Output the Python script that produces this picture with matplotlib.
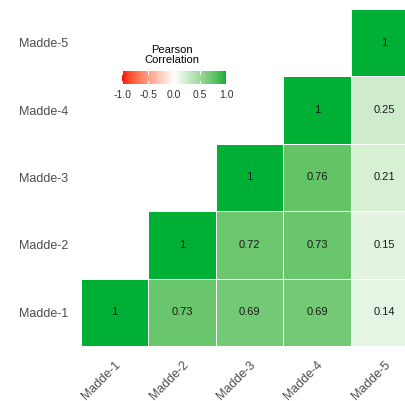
import numpy as np
import matplotlib
matplotlib.use('Agg')
import matplotlib.pyplot as plt
from matplotlib.colors import ListedColormap

plt.rcParams['font.family'] = ['Liberation Sans', 'DejaVu Sans']

labels = ['Madde-1', 'Madde-2', 'Madde-3', 'Madde-4', 'Madde-5']
# correlations, row i / column j, only j >= i is shown
corr = np.array([
    [1.00, 0.73, 0.69, 0.69, 0.14],
    [0.73, 1.00, 0.72, 0.73, 0.15],
    [0.69, 0.72, 1.00, 0.76, 0.21],
    [0.69, 0.73, 0.76, 1.00, 0.25],
    [0.14, 0.15, 0.21, 0.25, 1.00],
])
cbar_ticks = [-1.0, -0.5, 0.0, 0.5, 1.0]


def srgb_to_lab(c):
    c = np.asarray(c, float)
    lin = np.where(c <= 0.04045, c / 12.92, ((c + 0.055) / 1.055) ** 2.4)
    m = np.array([[0.4124, 0.3576, 0.1805],
                  [0.2126, 0.7152, 0.0722],
                  [0.0193, 0.1192, 0.9505]])
    xyz = m @ lin / np.array([0.95047, 1.0, 1.08883])
    f = np.where(xyz > 0.008856, np.cbrt(xyz), 7.787 * xyz + 16 / 116)
    return np.array([116 * f[1] - 16, 500 * (f[0] - f[1]), 200 * (f[1] - f[2])])


def lab_to_srgb(lab):
    L, a, b = lab
    fy = (L + 16) / 116
    fx = fy + a / 500
    fz = fy - b / 200
    f = np.array([fx, fy, fz])
    xyz = np.where(f ** 3 > 0.008856, f ** 3, (f - 16 / 116) / 7.787)
    xyz = xyz * np.array([0.95047, 1.0, 1.08883])
    m = np.array([[3.2406, -1.5372, -0.4986],
                  [-0.9689, 1.8758, 0.0415],
                  [0.0557, -0.2040, 1.0570]])
    lin = m @ xyz
    c = np.where(lin <= 0.0031308, 12.92 * lin, 1.055 * np.clip(lin, 0, None) ** (1 / 2.4) - 0.055)
    return np.clip(c, 0, 1)


def lab_cmap(low, mid, high, n=256):
    lo, mi, hi = [srgb_to_lab(matplotlib.colors.to_rgb(c)) for c in (low, mid, high)]
    cols = []
    for t in np.linspace(-1, 1, n):
        if t < 0:
            lab = mi + (lo - mi) * (-t)
        else:
            lab = mi + (hi - mi) * t
        cols.append(lab_to_srgb(lab))
    return ListedColormap(cols)


cmap = lab_cmap('#FF0000', '#FFFFFF', '#00B035')

fig = plt.figure(figsize=(4.06, 4.01), dpi=100)
ax = fig.add_axes([81 / 406, 55 / 401, 337 / 406, 337 / 401])

n = len(labels)
mask = np.tril(np.ones((n, n), bool), -1)
data = np.ma.masked_where(mask, corr)
ax.pcolormesh(np.arange(n + 1), np.arange(n + 1), data, cmap=cmap, vmin=-1, vmax=1,
              edgecolors='white', linewidth=0.6)

for i in range(n):
    for j in range(n):
        if j >= i:
            v = corr[i, j]
            txt = '1' if v == 1 else ('%.2f' % v).rstrip('0')
            ax.text(j + 0.5, i + 0.5, txt, ha='center', va='center', fontsize=8, color='#1a1a1a')

ax.set_xlim(0, n)
ax.set_ylim(0, n)
ax.set_xticks(np.arange(n) + 0.5)
ax.set_yticks(np.arange(n) + 0.5)
ax.set_xticklabels(labels, rotation=45, ha='right', va='top', rotation_mode='anchor')
ax.set_yticklabels(labels)
ax.tick_params(length=0, labelsize=9, labelcolor='#4D4D4D', pad=9.5)
ax.tick_params(axis='x', pad=9)
for s in ax.spines.values():
    s.set_visible(False)

# colour bar legend
cax = fig.add_axes([121 / 406, 1 - 84 / 401, 106 / 406, 13 / 401])
grad = np.linspace(-1, 1, 256).reshape(1, -1)
cax.imshow(grad, cmap=cmap, aspect='auto', extent=[-1, 1, 0, 1], vmin=-1, vmax=1)
for t in cbar_ticks:
    cax.plot([t, t], [0, 0.2], color='white', lw=0.8)
    cax.plot([t, t], [0.8, 1], color='white', lw=0.8)
cax.set_xlim(-1.02, 1.02)
cax.set_ylim(0, 1)
cax.set_xticks(cbar_ticks)
cax.set_xticklabels(['%.1f' % t for t in cbar_ticks])
cax.set_yticks([])
cax.tick_params(length=0, labelsize=7.5, labelcolor='#333333', pad=4)
for s in cax.spines.values():
    s.set_visible(False)
fig.text(172 / 406, 1 - 55 / 401, 'Pearson\nCorrelation', ha='center', va='center',
         fontsize=8, color='black', linespacing=1.1)

fig.savefig('out.png', dpi=100)
